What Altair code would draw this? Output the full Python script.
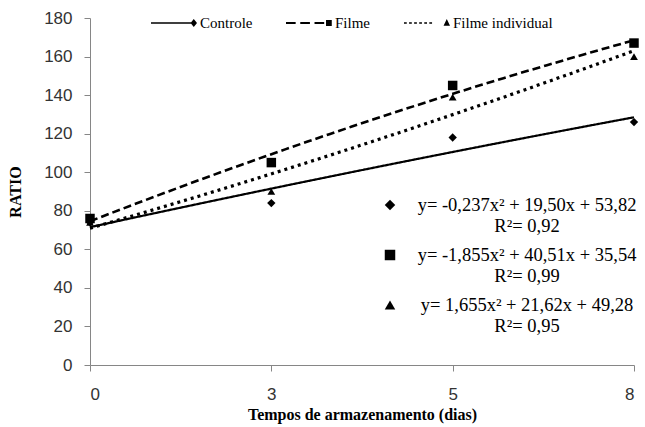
import altair as alt
import pandas as pd

# ---- data ----
days = ["0", "3", "5", "8"]
series_names = ["Controle", "Filme", "Filme individual"]
controle = [74, 84, 118, 126]
filme = [76, 105, 145, 167]
filme_ind = [74, 90, 139, 160]
equations = [
    "y= -0,237x² + 19,50x + 53,82",
    "y= -1,855x² + 40,51x + 35,54",
    "y= 1,655x² + 21,62x + 49,28",
]
r2_texts = ["R²= 0,92", "R²= 0,99", "R²= 0,95"]
y_ticks = list(range(0, 181, 20))

rows = []
for name, vals in zip(series_names, [controle, filme, filme_ind]):
    for i, (d, v) in enumerate(zip(days, vals)):
        rows.append({"series": name, "idx": i + 1, "day": d, "value": v})
df = pd.DataFrame(rows)

# ---- styles ----
SERIF = "Liberation Serif"
SANS = "Liberation Sans Narrow, Liberation Sans"
styles = {
    "Controle": dict(dash=[1, 0], width=2.2, shape="diamond", size=70),
    "Filme": dict(dash=[8, 4], width=2.6, shape="square", size=90),
    "Filme individual": dict(dash=[3, 4], width=3.2, shape="triangle-up", size=60),
}


def rect(x1, x2, h):
    return f"M{x1:.3f},{-h:.3f}H{x2:.3f}V{h:.3f}H{x1:.3f}Z"


def dash_path(start, end, dash, gap, h):
    parts = []
    x = start
    while x < end:
        x2 = min(x + dash, end)
        parts.append(rect(x, x2, h))
        x = x2 + gap
    return "".join(parts)


diamond = "M0.86,-0.17L1,0L0.86,0.17L0.72,0Z"
square = "M0.74,-0.13H0.99V0.13H0.74Z"
triangle = "M0.86,-0.17L1,0.12L0.72,0.12Z"
legend_paths = [
    rect(-1, 0.74, 0.035) + diamond,
    dash_path(-1, 0.66, 0.42, 0.2, 0.045) + square,
    dash_path(-1, 0.25, 0.12, 0.1, 0.035) + triangle,
]

label_expr = "[" + ",".join(f"'{d}'" for d in days) + "][datum.value - 1]"

x_enc = alt.X(
    "idx:Q",
    scale=alt.Scale(domain=[1, 4], nice=False, zero=False),
    axis=alt.Axis(
        values=[1, 2, 3, 4],
        labelExpr=label_expr,
        title="Tempos de armazenamento (dias)",
        grid=False,
        domainColor="#868686",
        tickColor="#868686",
        tickSize=6,
        labelFont=SANS,
        labelFontSize=17,
        labelColor="#333333",
        labelPadding=15,
        titleFont=SERIF,
        titleFontWeight="bold",
        titleFontSize=16,
        titleColor="black",
        titlePadding=4,
    ),
)
y_enc = alt.Y(
    "value:Q",
    scale=alt.Scale(domain=[0, 180], nice=False),
    axis=alt.Axis(
        values=y_ticks,
        title="RATIO",
        grid=False,
        domainColor="#868686",
        tickColor="#868686",
        tickSize=6,
        labelFont=SANS,
        labelFontSize=17,
        labelColor="#333333",
        labelPadding=12,
        titleFont=SERIF,
        titleFontWeight="bold",
        titleFontSize=16,
        titleColor="black",
        titlePadding=20,
    ),
)

base = alt.Chart(df)
layers = []

# trend lines (quadratic fits computed by Vega-Lite)
for s in series_names:
    st = styles[s]
    layers.append(
        base.transform_filter(alt.datum.series == s)
        .transform_regression("idx", "value", method="poly", order=2, extent=[1, 4])
        .mark_line(color="black", strokeDash=st["dash"], strokeWidth=st["width"])
        .encode(x=x_enc, y=y_enc)
    )

# observed points
for s in series_names:
    st = styles[s]
    layers.append(
        base.transform_filter(alt.datum.series == s)
        .mark_point(shape=st["shape"], size=st["size"], filled=True, color="black", opacity=1)
        .encode(x=x_enc, y=y_enc)
    )

# legend carrier (invisible points, legend symbols drawn as line + marker)
layers.append(
    base.mark_point(filled=True, color="black", opacity=0).encode(
        x=x_enc,
        y=y_enc,
        shape=alt.Shape(
            "series:N",
            scale=alt.Scale(domain=series_names, range=legend_paths),
            legend=alt.Legend(
                title=None,
                orient="none",
                direction="horizontal",
                legendX=60,
                legendY=-19,
                symbolSize=2116,
                symbolOpacity=1,
                symbolFillColor="black",
                labelFont=SERIF,
                labelFontSize=15,
                labelColor="black",
                labelOffset=2,
                columnPadding=30,
            ),
        ),
    )
)

# equation annotations
eq_y = [187, 237, 287]
for i, s in enumerate(series_names):
    st = styles[s]
    mk = pd.DataFrame({"t": [equations[i]]})
    layers.append(
        alt.Chart(mk)
        .mark_point(shape=st["shape"], size=110, filled=True, color="black", opacity=1)
        .encode(x=alt.value(300), y=alt.value(eq_y[i]))
    )
    layers.append(
        alt.Chart(mk)
        .mark_text(font=SERIF, fontSize=18.5, color="black", align="center", baseline="middle")
        .encode(x=alt.value(437), y=alt.value(eq_y[i]), text="t:N")
    )
    rk = pd.DataFrame({"t": [r2_texts[i]]})
    layers.append(
        alt.Chart(rk)
        .mark_text(font=SERIF, fontSize=18.5, color="black", align="center", baseline="middle")
        .encode(x=alt.value(437), y=alt.value(eq_y[i] + 21), text="t:N")
    )

chart = (
    alt.layer(*layers)
    .properties(
        width=544,
        height=347,
        autosize=alt.AutoSizeParams(type="none"),
        padding={"left": 90, "top": 18, "right": 11, "bottom": 62},
        background="white",
    )
    .configure_view(stroke=None)
)

chart.save("out.html", embed_options={"renderer": "svg", "actions": False})
